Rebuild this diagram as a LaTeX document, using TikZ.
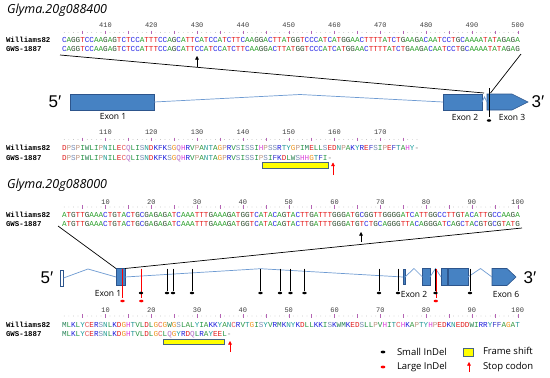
\documentclass[tikz,border=0pt]{standalone}
\usepackage{fontspec}
\setmainfont{Open Sans}
\newfontfamily\seqfont{Liberation Mono}
\newfontfamily\endfont{Liberation Sans}
\usetikzlibrary{arrows.meta}
\definecolor{ntA}{RGB}{40,160,40}
\definecolor{ntC}{RGB}{40,40,230}
\definecolor{ntG}{RGB}{45,75,45}
\definecolor{ntT}{RGB}{230,30,30}
\definecolor{aaA}{RGB}{50,150,60}
\definecolor{aaC}{RGB}{230,90,90}
\definecolor{aaD}{RGB}{225,30,30}
\definecolor{aaE}{RGB}{225,30,30}
\definecolor{aaF}{RGB}{60,60,200}
\definecolor{aaG}{RGB}{240,150,30}
\definecolor{aaH}{RGB}{220,70,220}
\definecolor{aaI}{RGB}{40,150,70}
\definecolor{aaK}{RGB}{30,30,220}
\definecolor{aaL}{RGB}{40,150,70}
\definecolor{aaM}{RGB}{40,130,90}
\definecolor{aaN}{RGB}{40,160,150}
\definecolor{aaP}{RGB}{190,150,130}
\definecolor{aaQ}{RGB}{180,110,200}
\definecolor{aaR}{RGB}{30,30,220}
\definecolor{aaS}{RGB}{120,140,180}
\definecolor{aaT}{RGB}{40,150,150}
\definecolor{aaV}{RGB}{40,150,70}
\definecolor{aaW}{RGB}{40,130,80}
\definecolor{aaY}{RGB}{30,160,160}
\definecolor{gapgray}{RGB}{120,120,120}
\definecolor{exonblue}{RGB}{70,130,195}
\definecolor{exonedge}{RGB}{45,85,140}
\definecolor{intronblue}{RGB}{110,155,210}
\definecolor{tickpink}{RGB}{180,100,180}
\definecolor{fsyellow}{RGB}{255,255,0}
\definecolor{fsedge}{RGB}{70,100,130}
\makeatletter
\def\dnaseq#1{\dna@step#1\@nil}
\def\dna@step#1{\ifx#1\@nil\else\textcolor{nt#1}{#1}\expandafter\dna@step\fi}
\def\aaseq#1{\aa@step#1\@nil}
\def\aa@step#1{\ifx#1\@nil\else\ifx#1-\textcolor{gapgray}{-}\else\textcolor{aa#1}{#1}\fi\expandafter\aa@step\fi}
\makeatother
\newcommand\seqruler[6]{%
  \foreach \i in {1,...,#4} \fill[gray!70] ({#1+(\i-0.5)*4.58},#2) circle (0.35);
  \foreach \i in {5,10,...,#4} \draw[tickpink, line width=0.4pt] ({#1+(\i-0.5)*4.58},{#2-2}) -- ({#1+(\i-0.5)*4.58},{#2+1.5});
  \foreach \i in {10,20,...,#4} {\pgfmathtruncatemacro\lab{#5+\i}
    \node[rulenum] (#6\lab) at ({#1+(\i-0.5)*4.58},#3) {\lab};}
}

\begin{document}
\begin{tikzpicture}[x=1pt,y=-1pt,
  every node/.style={inner sep=0pt, outer sep=0pt},
  seqrow/.style={anchor=west, font=\seqfont\fontsize{7.63}{8}\selectfont, text height=4.5pt, text depth=0pt},
  seqname/.style={seqrow, font=\seqfont\bfseries\fontsize{7.4}{8}\selectfont},
  rulenum/.style={font=\seqfont\fontsize{7}{8}\selectfont, text=black!75},
  genetitle/.style={anchor=base west, font=\itshape\fontsize{12.5}{14}\selectfont},
  exon/.style={draw=exonedge, fill=exonblue, line width=0.6pt},
  intron/.style={draw=intronblue, line width=0.7pt},
  exonlab/.style={font=\fontsize{8.5}{10}\selectfont},
  endlab/.style={font=\endfont\fontsize{17}{18}\selectfont},
  zoomline/.style={draw=black, line width=0.7pt},
  smallindel/.style={draw=black, line width=0.6pt},
  largeindel/.style={draw=red, line width=0.6pt},
  mutarrow/.style={draw=black, line width=0.5pt, -{Triangle[length=3.5pt,width=3.5pt]}},
  stoparrow/.style={draw=red, line width=0.5pt, -{Triangle[length=3.5pt,width=3.5pt]}},
  frameshift/.style={draw=fsedge, fill=fsyellow, line width=0.6pt},
  legtext/.style={anchor=west, font=\fontsize{9.5}{11}\selectfont}]
  \path[fill=white, use as bounding box] (0,0) rectangle (550,378);

  \node[genetitle] (titleA) at (7,13) {Glyma.20g088400};
  \seqruler{62}{32.5}{25}{100}{400}{rA}
  \node[seqname] (lwA) at (6,40) {Williams82};
  \node[seqname] (lgA) at (6,49.5) {GWS-1887};
  \node[seqrow] (wA) at (62,40) {\dnaseq{CAGGTCCAAGAGTCTCCATTTCCAGCATTCATCCATCTTCAAGGACTTATGGTCCCATCATGGAACTTTTATCTGAAGACAATCCTGCAAAATATAGAGA}};
  \node[seqrow] (gA) at (62,49.5) {\dnaseq{CAGGTCCAAGAGTCTCCATTTCCAGCATTCCATCCATCTTCAAGGACTTATGGTCCCATCATGGAACTTTTATCTGAAGACAATCCTGCAAAATATAGAG}};
  \coordinate (mA) at (197,67);
  \draw[mutarrow] (mA) -- ++(0,-11);

  \node[endlab] (fiveA) at (55,102) {5′};
  \node[endlab] (threeA) at (538,102) {3′};
  \node[exon, minimum width=84, minimum height=16] (a1) at (112,102) {};
  \node[exon, minimum width=39, minimum height=16] (a2) at (462.5,102) {};
  \coordinate (a3) at (487,102);
  \draw[exon] (487,94) -- (512,94) -- (528,102) -- (512,110) -- (487,110) -- cycle;
  \draw[intron] (a1.east) -- (300,94.5) -- (a2.west);
  \draw[intron] (a2.east) -- (484.5,97) -- (a3);
  \node[exonlab] (la1) at (113,117) {Exon 1};
  \node[exonlab] (la2) at (465,117) {Exon 2};
  \node[exonlab] (la3) at (512,117) {Exon 3};
  \coordinate (sA1) at (60,55);
  \coordinate (sA2) at (521,54);
  \coordinate (jA1) at (484,93);
  \coordinate (jA2) at (490.5,93);
  \draw[zoomline] (sA1) -- (jA1);
  \draw[zoomline] (sA2) -- (jA2);
  \draw[smallindel] (489,88) -- (489,117);
  \fill (489,120.5) ellipse (2.2 and 1.3);

  \seqruler{62}{139.5}{132}{78}{100}{rAp}
  \node[seqname] (lwAp) at (6,148.3) {Williams82};
  \node[seqname] (lgAp) at (6,157.8) {GWS-1887};
  \node[seqrow] (wAp) at (62,148.3) {\aaseq{DPSPIWLIPNILECQLISNDKFKSGQHRVPANTAGPRVSISSIHPSSRTYGPIMELLSEDNPAKYREFSIPEFTAHY-}};
  \node[seqrow] (gAp) at (62,157.8) {\aaseq{DPSPIWLIPNILECQLISNDKFKSGQHRVPANTAGPRVSISSIPSIFKDLWSHHGTFI-}};
  \node[frameshift, minimum width=66, minimum height=6] (fsA) at (295,165.4) {};
  \coordinate (stA) at (333,175);
  \draw[stoparrow] (stA) -- ++(0,-12.5);

  \node[genetitle] (titleB) at (7,188) {Glyma.20g088000};
  \seqruler{62}{207}{202.5}{100}{0}{rB}
  \node[seqname] (lwB) at (6,215) {Williams82};
  \node[seqname] (lgB) at (6,224) {GWS-1887};
  \node[seqrow] (wB) at (62,215) {\dnaseq{ATGTTGAAACTGTACTGCGAGAGATCAAATTTGAAAGATGGTCATACAGTACTTGATTTGGGATGCGGTTGGGGATCATTGGCCTTGTACATTGCCAAGA}};
  \node[seqrow] (gB) at (62,224) {\dnaseq{ATGTTGAAACTGTACTGCGAGAGATCAAATTTGAAAGATGGTCATACAGTACTTGATTTGGGATGTCTGCAGGGTTACAGGGATCAGCTACGTGCGTATG}};
  \coordinate (mB) at (361,242);
  \draw[mutarrow] (mB) -- ++(0,-10);

  \node[endlab] (fiveB) at (47,278) {5′};
  \node[endlab] (threeB) at (530,278) {3′};
  \node[exon, fill=white, minimum width=3, minimum height=16] (b0) at (62,278) {};
  \node[exon, minimum width=9, minimum height=17] (b1) at (120.5,277) {};
  \node[exon, minimum width=2, minimum height=15] (b2) at (404,277) {};
  \node[exon, minimum width=7.5, minimum height=17] (b3) at (426.25,277) {};
  \node[exon, minimum width=6, minimum height=17] (b4) at (444,277) {};
  \node[exon, minimum width=20, minimum height=17] (b5) at (458,277) {};
  \coordinate (b6) at (492,277);
  \draw[exon] (492,268.5) -- (507,268.5) -- (516,277) -- (507,285.5) -- (492,285.5) -- cycle;
  \draw[intron] (b0.east) -- (88,269) -- (b1.west);
  \draw[intron] (b1.east) -- (260.5,268.7) -- (b2.west);
  \draw[intron] (b2.east) -- (414,268.5) -- (b3.west);
  \draw[intron] (b3.east) -- (435.5,268.5) -- (b4.west);
  \draw[intron] (b5.east) -- (480.5,268.5) -- (b6);
  \node[exonlab] (lb1) at (108,294) {Exon 1};
  \node[exonlab] (lb2) at (414,294) {Exon 2};
  \node[exonlab] (lb6) at (506,294) {Exon 6};
  \coordinate (sB1) at (58,226);
  \coordinate (sB2) at (522,228);
  \draw[zoomline] (sB1) -- (b1.north west);
  \draw[zoomline] (sB2) -- (b1.north east);
  \foreach \x in {141,167,173,192,260.5,280,290.5,304.5,379,398,435.5,470}
    \draw[smallindel] (\x,268.7) -- (\x,291);
  \foreach \x in {122.5,141.6,436.1}
    \draw[largeindel] (\x,268.5) -- (\x,298);
  \foreach \x in {141,167,173,192,260.5,280,290.5,304.5,379,398,435.5,470}
    \fill (\x,293) ellipse (2.2 and 1.3);
  \foreach \x in {122.5,141.3,435.8}
    \fill[red] (\x,301) ellipse (2.2 and 1.3);

  \seqruler{62}{316}{310}{100}{0}{rBp}
  \node[seqname] (lwBp) at (6,325) {Williams82};
  \node[seqname] (lgBp) at (6,334) {GWS-1887};
  \node[seqrow] (wBp) at (62,325) {\aaseq{MLKLYCERSNLKDGHTVLDLGCGWGSLALYIAKKYANCRVTGISYVRMKNYKDLLKKISKWMKEDSLLPVHITCHKAPTYHPEDKNEDDWIRRYFFAGAT}};
  \node[seqrow] (gBp) at (62,334) {\aaseq{MLKLYCERSNLKDGHTVLDLGCLQGYRDQLRAYEEL-}};
  \node[frameshift, minimum width=61, minimum height=5.3] (fsB) at (193.5,341.7) {};
  \coordinate (stB) at (230,352);
  \draw[stoparrow] (stB) -- ++(0,-11);

  \fill (383,352) ellipse (2.4 and 1.4);
  \node[legtext] (legsmall) at (397,352) {Small InDel};
  \fill[red] (383,367) ellipse (2.4 and 1.4);
  \node[legtext] (leglarge) at (397,367) {Large InDel};
  \node[frameshift, minimum width=10, minimum height=8] (fsLeg) at (468,352) {};
  \node[legtext] (legframe) at (483,351) {Frame shift};
  \coordinate (stLeg) at (469,372);
  \draw[stoparrow] (stLeg) -- ++(0,-10);
  \node[legtext] (legstop) at (483,367) {Stop codon};
\end{tikzpicture}
\end{document}
